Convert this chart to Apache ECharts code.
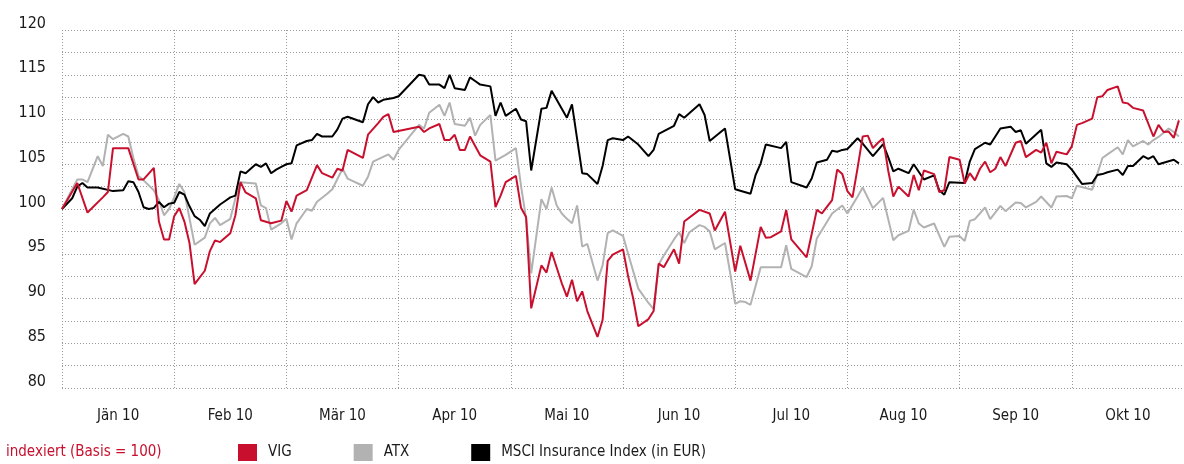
<!DOCTYPE html>
<html>
<head>
<meta charset="utf-8">
<script src="https://cdn.jsdelivr.net/npm/echarts@6/dist/echarts.min.js"></script>
<style>
html,body{margin:0;padding:0;background:#fff;}
#chart{width:1184px;height:464px;}
</style>
</head>
<body>
<div id="chart"></div>
<script>
// Month categories (equal width), trading-day slots per month
const months = ['Jän 10','Feb 10','Mär 10','Apr 10','Mai 10','Jun 10','Jul 10','Aug 10','Sep 10','Okt 10'];
const daysPerMonth = 22;
const yMin = 80, yMax = 120, yStep = 2.5, yLabelStep = 5;

// [trading day index, indexed value]
const vig = [[0,100.0],[3,102.9],[5,99.6],[8,101.3],[9,101.9],[10,106.8],[13,106.8],[15,103.3],[16,103.3],[18,104.6],[19,98.6],[20,96.6],[21,96.6],[22,99.2],[23,100.1],[24,98.6],[25,96.2],[26,91.6],[28,93.1],[29,95.3],[30,96.5],[31,96.3],[33,97.3],[34,99.3],[35,103.0],[36,101.85],[38,101.2],[39,98.75],[41,98.4],[43,98.7],[44,100.9],[45,99.7],[46,101.5],[48,102.1],[50,104.9],[51,104.0],[53,103.5],[54,104.5],[55,104.3],[56,106.6],[59,105.7],[60,108.3],[62,109.6],[63,110.3],[64,110.6],[65,108.6],[70,109.2],[71,108.6],[72,109.0],[74,109.5],[75,107.7],[76,107.7],[77,108.3],[78,106.6],[79,106.6],[80,108.1],[82,106.0],[84,105.3],[85,100.2],[86,101.5],[87,103.0],[89,103.7],[90,100.15],[91,99.1],[92,88.9],[94,93.7],[95,92.9],[96,95.2],[98,91.7],[99,90.2],[100,92.1],[101,89.7],[102,90.8],[103,88.6],[105,85.7],[106,87.6],[107,94.2],[108,94.9],[110,95.5],[111,92.5],[112,90.0],[113,86.9],[115,87.7],[116,88.6],[117,93.9],[118,93.5],[120,95.5],[121,93.9],[122,98.6],[125,99.9],[127,99.5],[128,97.6],[130,99.7],[132,93.0],[133,95.9],[135,92.0],[137,98.0],[138,96.8],[139,96.85],[141,97.5],[142,99.9],[143,96.6],[146,94.6],[147,97.2],[148,99.9],[149,99.5],[151,101.0],[152,104.4],[153,103.9],[154,102.0],[155,101.3],[156,104.6],[157,108.1],[158,108.2],[159,106.8],[160,107.4],[161,107.9],[162,104.3],[163,101.4],[164,102.5],[166,101.4],[167,103.8],[168,102.1],[169,104.3],[171,103.9],[172,101.9],[173,102.1],[174,105.8],[176,105.5],[177,102.85],[178,104.0],[179,103.2],[180,104.5],[181,105.3],[182,104.1],[183,104.5],[184,105.8],[185,104.8],[187,107.4],[188,107.6],[189,105.8],[191,106.6],[192,106.3],[193,107.4],[194,105.1],[195,106.4],[197,106.1],[198,107.0],[199,109.4],[200,109.6],[202,110.1],[203,112.5],[204,112.6],[205,113.3],[207,113.7],[208,111.9],[209,111.8],[210,111.3],[212,111.0],[214,108.1],[215,109.4],[216,108.6],[217,108.65],[218,107.95],[219,109.9]];

const atx = [[0,100.0],[3,103.3],[4,103.3],[5,103.0],[7,105.9],[8,104.8],[9,108.3],[10,107.8],[12,108.4],[13,108.1],[14,105.7],[15,103.7],[16,103.2],[18,102.1],[19,101.0],[20,99.3],[21,100.0],[22,101.3],[23,102.8],[24,101.9],[26,96.0],[28,96.8],[29,98.4],[30,99.0],[31,98.2],[33,98.9],[34,101.2],[35,103.0],[38,102.85],[39,100.4],[40,100.1],[41,97.7],[43,98.4],[44,98.9],[45,96.6],[46,98.4],[48,100.0],[49,99.8],[50,100.8],[52,101.7],[53,102.2],[55,104.5],[56,103.4],[59,102.6],[60,103.6],[61,105.3],[64,106.1],[65,105.5],[66,106.6],[70,109.4],[71,109.0],[72,110.75],[74,111.65],[75,110.4],[76,111.9],[77,109.5],[79,109.3],[80,110.2],[81,108.2],[82,109.4],[84,110.5],[85,105.4],[87,106.05],[89,106.8],[90,102.6],[91,98.9],[92,92.8],[94,101.1],[95,100.0],[96,102.4],[97,100.4],[98,99.5],[99,98.9],[100,98.4],[101,100.4],[102,95.8],[103,96.1],[105,92.0],[106,93.7],[107,97.3],[108,97.6],[110,97.0],[111,95.0],[113,91.1],[115,89.5],[116,88.8],[117,93.8],[118,94.8],[120,96.6],[121,97.4],[122,96.2],[123,97.4],[125,98.2],[126,98.0],[127,97.5],[128,95.5],[130,96.2],[131,92.9],[132,89.4],[133,89.7],[134,89.6],[135,89.3],[137,93.5],[141,93.5],[142,95.95],[143,93.3],[146,92.4],[147,93.6],[148,96.7],[151,99.5],[153,100.4],[154,99.5],[156,101.4],[157,102.4],[159,100.1],[161,101.24],[163,96.5],[164,97.07],[166,97.55],[167,99.94],[168,98.38],[169,97.93],[171,98.38],[173,95.77],[174,96.9],[176,96.97],[177,96.43],[178,98.67],[179,98.86],[181,100.17],[182,98.86],[184,100.35],[185,99.76],[187,100.73],[188,100.68],[189,100.17],[191,100.8],[192,101.4],[194,100.17],[195,101.4],[197,101.45],[198,101.2],[199,102.6],[202,102.16],[204,105.7],[205,106.1],[207,106.9],[208,106.1],[209,107.7],[210,107.0],[212,107.6],[213,107.2],[214,107.7],[215,108.05],[217,109.0],[218,108.6],[219,108.1]];

const msci = [[0,100.0],[2,101.2],[3,102.5],[4,102.9],[5,102.4],[7,102.4],[10,102.0],[12,102.1],[13,103.1],[14,103.0],[15,101.9],[16,100.2],[17,100.0],[18,100.1],[19,100.8],[20,100.2],[21,100.6],[22,100.7],[23,101.9],[24,101.6],[25,100.3],[26,99.2],[27,98.8],[28,98.1],[29,99.5],[30,100.0],[31,100.5],[32,100.9],[33,101.3],[34,101.5],[35,104.2],[36,104.0],[37,104.5],[38,105.0],[39,104.7],[40,105.1],[41,104.0],[42,104.4],[43,104.7],[44,105.0],[45,105.1],[46,107.1],[48,107.6],[49,107.7],[50,108.4],[51,108.1],[53,108.1],[54,108.9],[55,110.1],[56,110.3],[59,109.7],[60,111.7],[61,112.5],[62,111.9],[63,112.2],[65,112.4],[66,112.6],[70,115.0],[71,114.9],[72,113.9],[74,113.9],[75,113.5],[76,115.0],[77,113.5],[79,113.3],[80,114.7],[81,114.3],[82,113.9],[84,113.7],[85,110.4],[86,111.9],[87,110.4],[89,111.2],[90,110.0],[91,109.8],[92,104.3],[94,111.2],[95,111.3],[96,113.2],[98,111.2],[99,110.2],[100,111.7],[102,104.0],[103,103.9],[105,102.8],[106,104.8],[107,107.7],[108,107.9],[110,107.7],[111,108.1],[113,107.2],[115,105.9],[116,106.6],[117,108.4],[120,109.3],[121,110.6],[122,110.2],[125,111.7],[126,110.5],[127,107.6],[130,109.0],[131,105.6],[132,102.2],[135,101.7],[136,103.8],[137,105.1],[138,107.2],[141,106.8],[142,107.5],[143,103.0],[146,102.4],[147,103.4],[148,105.2],[150,105.5],[151,106.5],[152,106.4],[153,106.6],[154,106.7],[156,107.9],[157,107.3],[159,105.9],[161,107.25],[162,105.8],[163,104.2],[164,104.5],[166,104.0],[167,105.0],[169,103.3],[171,103.75],[172,102.1],[173,101.6],[174,103.0],[177,102.9],[178,105.3],[179,106.7],[181,107.4],[182,107.2],[184,109.0],[186,109.2],[187,108.6],[188,108.8],[189,107.3],[192,108.85],[193,105.1],[194,104.7],[195,105.2],[197,105.0],[198,104.4],[200,102.8],[202,102.9],[203,103.8],[204,103.9],[205,104.1],[207,104.4],[208,103.8],[209,104.8],[210,104.8],[212,105.9],[213,105.6],[214,105.9],[215,105.0],[218,105.5],[219,105.1]];

const seriesNames = ['VIG','ATX','MSCI Insurance Index (in EUR)'];
const noteText = 'indexiert (Basis = 100)';

const FONT = '"DejaVu Sans Condensed","Liberation Sans Narrow","Roboto",sans-serif';
const RED = '#c8102e', GREY = '#b2b2b2', BLACK = '#000000';
const dotted = {color:'#9a9a9a', width:1, type:[1,2]};

const chart = echarts.init(document.getElementById('chart'), null, {renderer:'canvas'});
chart.setOption({
  animation:false,
  backgroundColor:'#ffffff',
  grid:{left:62, top:30, width:1126, height:358, containLabel:false},
  xAxis:[
    {type:'value', position:'top', min:0, max:months.length*daysPerMonth, interval:daysPerMonth,
     axisLine:{show:false}, axisTick:{show:false}, axisLabel:{show:false},
     splitLine:{show:true, lineStyle:dotted}},
    {type:'category', position:'bottom', data:months, boundaryGap:true,
     axisLine:{show:false}, axisTick:{show:false}, splitLine:{show:false},
     axisLabel:{show:true, interval:0, margin:21, fontFamily:FONT, fontSize:15, color:'#1a1a1a'}}
  ],
  yAxis:{type:'value', min:yMin, max:yMax, interval:yStep,
    axisLine:{show:false}, axisTick:{show:false},
    splitLine:{show:true, lineStyle:dotted},
    axisLabel:{show:true, margin:16, fontFamily:FONT, fontSize:16, color:'#1a1a1a',
      verticalAlign:'bottom', lineHeight:13,
      formatter:v => (Math.abs(v % yLabelStep) < 1e-9 ? String(v) : '')}
  },
  legend:{left:238, top:444, padding:0, icon:'rect', itemWidth:19, itemHeight:17, itemGap:62,
    data:seriesNames,
    textStyle:{fontFamily:FONT, fontSize:15, color:'#1a1a1a', padding:[0,0,0,6]}},
  graphic:[{type:'text', left:6, top:445,
    style:{text:noteText, fontFamily:FONT, fontSize:15, fill:RED}}],
  series:[
    {name:seriesNames[1], type:'line', xAxisIndex:0, data:atx, showSymbol:false, symbol:'none',
     lineStyle:{color:GREY, width:2}, itemStyle:{color:GREY}, z:2},
    {name:seriesNames[2], type:'line', xAxisIndex:0, data:msci, showSymbol:false, symbol:'none',
     lineStyle:{color:BLACK, width:2}, itemStyle:{color:BLACK}, z:3},
    {name:seriesNames[0], type:'line', xAxisIndex:0, data:vig, showSymbol:false, symbol:'none',
     lineStyle:{color:RED, width:2}, itemStyle:{color:RED}, z:4}
  ]
});
</script>
</body>
</html>
